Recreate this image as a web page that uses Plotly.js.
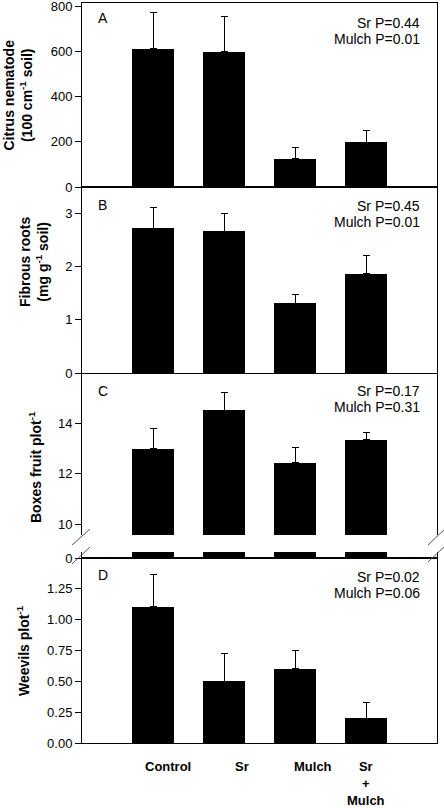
<!DOCTYPE html>
<html><head><meta charset="utf-8">
<script src="https://cdn.plot.ly/plotly-3.0.1.min.js"></script>
<style>html,body{margin:0;padding:0;background:#fff;}#chart{width:444px;height:808px;}</style>
</head><body><div id="chart"></div>
<script>
// ---- data ----
const categories = ['Control', 'Sr', 'Mulch', 'Sr<br>+<br>Mulch'];
const nematodeMean = [610, 598, 125, 198];
const nematodeSE = [162, 156, 49, 53];
const rootsMean = [2.71, 2.66, 1.31, 1.86];
const rootsSE = [0.40, 0.33, 0.17, 0.35];
const boxesMean = [12.98, 14.50, 12.43, 13.34];
const boxesSE = [0.82, 0.69, 0.59, 0.29];
const weevilsMean = [1.10, 0.50, 0.60, 0.20];
const weevilsSE = [0.26, 0.22, 0.15, 0.13];
const panelLetters = ['A', 'B', 'C', 'D'];
const srP = ['Sr P=0.44', 'Sr P=0.45', 'Sr P=0.17', 'Sr P=0.02'];
const mulchP = ['Mulch P=0.01', 'Mulch P=0.01', 'Mulch P=0.31', 'Mulch P=0.06'];
const ticksA = [0, 200, 400, 600, 800];
const ticksB = [0, 1, 2, 3];
const ticksC = [10, 12, 14];
const ticksD = [0, 0.25, 0.5, 0.75, 1.0, 1.25];

// ---- geometry helpers ----
const W = 444, H = 808, L = 82, R = 7, T = 3, B = 65;
const PW = W - L - R, PH = H - T - B;
const px = x => (x - L) / PW;
const py = y => (H - B - y) / PH;
const xPos = categories.map((_, i) => i);

const FONT = 'Liberation Sans, Arial, sans-serif';

function barTrace(y, se, xa, ya, withErr) {
  const t = {
    type: 'bar', x: xPos, y: y, xaxis: xa, yaxis: ya,
    width: 0.6, marker: {color: '#000', line: {width: 0}},
    showlegend: false, hoverinfo: 'skip', cliponaxis: true
  };
  if (withErr) {
    t.error_y = {type: 'data', symmetric: false, array: se,
      arrayminus: se.map(() => 0), color: '#000', thickness: 1, width: 3.5};
  }
  return t;
}

const data = [
  barTrace(nematodeMean, nematodeSE, 'x2', 'y2', true),
  barTrace(rootsMean, rootsSE, 'x3', 'y3', true),
  barTrace(boxesMean, boxesSE, 'x4', 'y4', true),
  barTrace(boxesMean, boxesSE, 'x5', 'y5', false),
  barTrace(weevilsMean, weevilsSE, 'x', 'y', true)
];

const yBase = {
  showline: true, mirror: true, linecolor: '#000', linewidth: 1,
  ticks: 'outside', ticklen: 6, tickwidth: 1, tickcolor: '#000',
  showgrid: false, zeroline: false, ticklabeloverflow: 'allow',
  tickfont: {family: FONT, size: 13, color: '#000'}
};
const xBase = {
  range: [-1, 4], showticklabels: false, ticks: '', showgrid: false,
  zeroline: false, linecolor: '#000', linewidth: 1
};

const layout = {
  width: W, height: H,
  margin: {l: L, r: R, t: T, b: B, pad: 0},
  paper_bgcolor: '#fff', plot_bgcolor: '#fff',
  bargap: 0,
  xaxis:  Object.assign({}, xBase, {anchor: 'y', showline: true, mirror: true}),
  xaxis2: Object.assign({}, xBase, {anchor: 'y2', matches: 'x', showline: true, mirror: true}),
  xaxis3: Object.assign({}, xBase, {anchor: 'y3', matches: 'x', showline: true, mirror: true}),
  xaxis4: Object.assign({}, xBase, {anchor: 'y4', matches: 'x', showline: false}),
  xaxis5: Object.assign({}, xBase, {anchor: 'y5', matches: 'x', showline: true, mirror: false}),
  // Panel D (bottom)
  yaxis: Object.assign({}, yBase, {anchor: 'x', domain: [0, py(558)], range: [0, 185 / 124],
    tickvals: ticksD, ticktext: ticksD.map(v => v.toFixed(2))}),
  // Panel A
  yaxis2: Object.assign({}, yBase, {anchor: 'x2', domain: [py(187), 1], range: [0, 800 * 184 / 181],
    tickvals: ticksA, ticktext: ticksA.map(String)}),
  // Panel B
  yaxis3: Object.assign({}, yBase, {anchor: 'x3', domain: [py(373), py(187)], range: [0, 186 / 53.33],
    tickvals: ticksB, ticktext: ticksB.map(String)}),
  // Panel C upper
  yaxis4: Object.assign({}, yBase, {anchor: 'x4', domain: [py(535), py(373)],
    range: [10 - 11 / 25.25, 14 + 50 / 25.25], tickvals: ticksC, ticktext: ticksC.map(String)}),
  // Panel C lower (broken axis stub)
  yaxis5: Object.assign({}, yBase, {anchor: 'x5', domain: [py(558), py(552)], range: [0, 1],
    tickvals: [0], ticktext: ['0']}),
  shapes: [],
  annotations: []
};

// break marks
const brk = [[72, 545, 90, 529], [72, 564, 90, 547], [428, 545, 446, 528], [428, 562, 446, 545]];
brk.forEach(b => layout.shapes.push({type: 'line', xref: 'paper', yref: 'paper',
  x0: px(b[0]), y0: py(b[1]), x1: px(b[2]), y1: py(b[3]), line: {color: '#555', width: 1}}));

// axis titles
const titles = [
  {text: '<b>Citrus nematode<br>(100 cm<sup>-1</sup> soil)</b>', x: 17.5, y: 95},
  {text: '<b>Fibrous roots<br>(mg g<sup>-1</sup> soil)</b>', x: 34, y: 262},
  {text: '<b>Boxes fruit plot<sup>-1</sup></b>', x: 35, y: 467},
  {text: '<b>Weevils plot<sup>-1</sup></b>', x: 23, y: 651}
];
titles.forEach(t => layout.annotations.push({text: t.text, xref: 'paper', yref: 'paper',
  x: px(t.x), y: py(t.y), xanchor: 'center', yanchor: 'middle', textangle: -90,
  showarrow: false, font: {family: FONT, size: 14, color: '#000'}}));

// panel letters and p-values
const letterY = [18, 205, 391, 575];
const pY1 = [23, 206, 391, 577];
panelLetters.forEach((lt, i) => {
  layout.annotations.push({text: lt, xref: 'paper', yref: 'paper', x: px(96), y: py(letterY[i]),
    xanchor: 'left', yanchor: 'middle', showarrow: false, font: {family: FONT, size: 14, color: '#000'}});
  layout.annotations.push({text: srP[i], xref: 'paper', yref: 'paper', x: px(422), y: py(pY1[i]),
    xanchor: 'right', yanchor: 'middle', showarrow: false, font: {family: FONT, size: 14, color: '#000'}});
  layout.annotations.push({text: mulchP[i], xref: 'paper', yref: 'paper', x: px(422), y: py(pY1[i] + 15.5),
    xanchor: 'right', yanchor: 'middle', showarrow: false, font: {family: FONT, size: 14, color: '#000'}});
});

// category labels
const labelShift = [15, 18, 18, 0];
categories.forEach((c, i) => layout.annotations.push({text: '<b>' + c + '</b>', xref: 'x', yref: 'paper',
  x: xPos[i], y: py(757), xshift: labelShift[i], xanchor: 'center', yanchor: 'top', align: 'center',
  showarrow: false, font: {family: FONT, size: 13, color: '#000'}}));

Plotly.newPlot('chart', data, layout, {staticPlot: true, displayModeBar: false});
</script>
</body></html>
